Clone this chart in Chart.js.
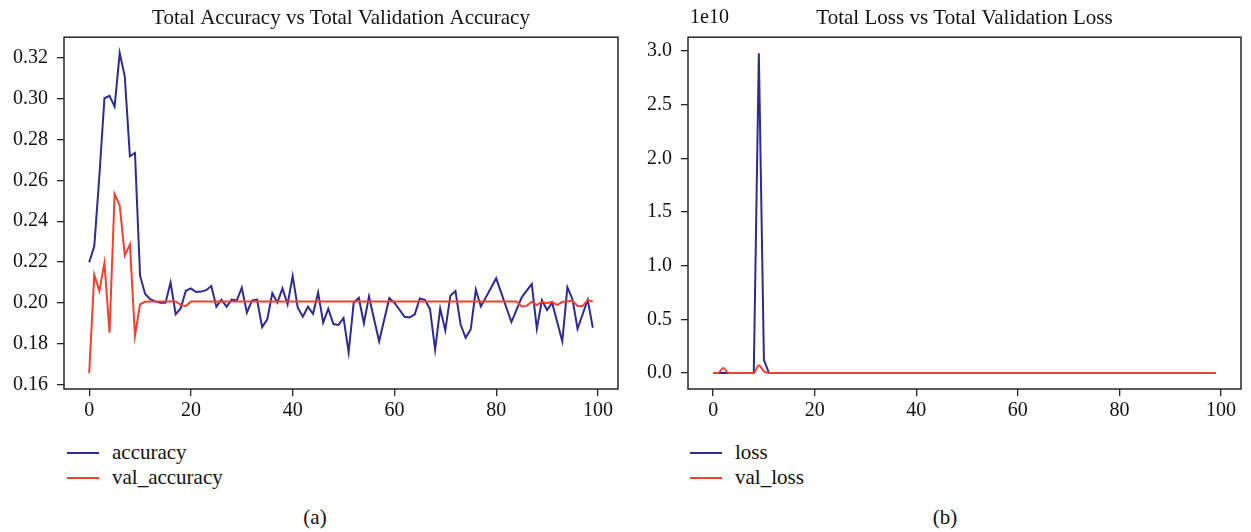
<!DOCTYPE html>
<html lang="en">
<head>
<meta charset="UTF-8" />
<title>accuracy / loss</title>
<script src="https://cdn.jsdelivr.net/npm/chart.js"></script>
<style>
  body { margin: 0; background: #fff; width: 1251px; height: 532px; position: relative; overflow: hidden;
         font-family: "Liberation Serif", "DejaVu Serif", serif; color: #111; }
  canvas { position: absolute; top: 0; }
  .legend { position: absolute; top: 440px; font-size: 21px; }
  .legend div { height: 25px; display: flex; align-items: center; }
  .legend .sw { display: inline-block; width: 32px; height: 2px; margin-right: 13px; }
  .cap { position: absolute; top: 505px; width: 630px; text-align: center; font-size: 21px; line-height: 24px; }
</style>
</head>
<body>
<canvas id="accChart" width="630" height="430" style="left:0"></canvas>
<canvas id="lossChart" width="621" height="430" style="left:630px"></canvas>

<div class="legend" style="left:67px">
  <div><span class="sw" style="background:#2e2a94"></span>accuracy</div>
  <div><span class="sw" style="background:#f2402f"></span>val_accuracy</div>
</div>
<div class="legend" style="left:690px">
  <div><span class="sw" style="background:#2e2a94"></span>loss</div>
  <div><span class="sw" style="background:#f2402f"></span>val_loss</div>
</div>
<div class="cap" style="left:0">(a)</div>
<div class="cap" style="left:630px">(b)</div>

<script>
// epochs 0..99
const epochs = [...Array(100).keys()];

const accuracy = [
  0.2199, 0.2277, 0.2620, 0.3002, 0.3014, 0.2961, 0.3223, 0.3108, 0.2718, 0.2734,
  0.2133, 0.2043, 0.2018, 0.2007, 0.2001, 0.2001, 0.2100, 0.1944, 0.1974, 0.2059,
  0.2071, 0.2053, 0.2055, 0.2062, 0.2082, 0.1981, 0.2015, 0.1981, 0.2016, 0.2011,
  0.2074, 0.1952, 0.2011, 0.2016, 0.1881, 0.1919, 0.2047, 0.2001, 0.2071, 0.1993,
  0.2131, 0.1976, 0.1932, 0.1981, 0.1946, 0.2051, 0.1903, 0.1971, 0.1896, 0.1892,
  0.1926, 0.1758, 0.2001, 0.2025, 0.1900, 0.2031, 0.1920, 0.1812, 0.1918, 0.2023,
  0.2001, 0.1966, 0.1932, 0.1928, 0.1944, 0.2021, 0.2015, 0.1969, 0.1771, 0.1972,
  0.1865, 0.2035, 0.2058, 0.1895, 0.1829, 0.1870, 0.2064, 0.1982, 0.2028, 0.2074,
  0.2120, 0.2049, 0.1977, 0.1906, 0.1966, 0.2026, 0.2060, 0.2092, 0.1873, 0.2013,
  0.1965, 0.2001, 0.1906, 0.1812, 0.2076, 0.2018, 0.1873, 0.1944, 0.2015, 0.1878
];

const valAccuracy = [
  0.1656, 0.2137, 0.2059, 0.2196, 0.1854, 0.2533, 0.2476, 0.2232, 0.2286, 0.1840,
  0.1993, 0.2005, 0.2007, 0.2007, 0.2007, 0.2007, 0.2007, 0.2007, 0.1990, 0.1984,
  0.2007, 0.2007, 0.2007, 0.2007, 0.2007, 0.2007, 0.2007, 0.2007, 0.2007, 0.2007,
  0.2007, 0.2007, 0.2007, 0.2007, 0.2007, 0.2007, 0.2007, 0.2007, 0.2007, 0.2007,
  0.2007, 0.2007, 0.2007, 0.2007, 0.2007, 0.2007, 0.2007, 0.2007, 0.2007, 0.2007,
  0.2007, 0.2007, 0.2007, 0.2007, 0.2007, 0.2007, 0.2007, 0.2007, 0.2007, 0.2007,
  0.2007, 0.2007, 0.2007, 0.2007, 0.2007, 0.2007, 0.2007, 0.2007, 0.2007, 0.2007,
  0.2007, 0.2007, 0.2007, 0.2007, 0.2007, 0.2007, 0.2007, 0.2007, 0.2007, 0.2007,
  0.2007, 0.2007, 0.2007, 0.2007, 0.2007, 0.1982, 0.1985, 0.2005, 0.1989, 0.2005,
  0.1998, 0.2005, 0.1989, 0.2005, 0.2007, 0.2010, 0.1985, 0.1985, 0.2013, 0.2007
];

const loss = [
  1.61, 1.61, 1.61, 1.61, 1.61, 1.61, 1.61, 1.61, 1.61, 2.98e10,
  1.2e9, 1.61, 1.61, 1.61, 1.61, 1.61, 1.61, 1.61, 1.61, 1.61,
  1.61, 1.61, 1.61, 1.61, 1.61, 1.61, 1.61, 1.61, 1.61, 1.61,
  1.61, 1.61, 1.61, 1.61, 1.61, 1.61, 1.61, 1.61, 1.61, 1.61,
  1.61, 1.61, 1.61, 1.61, 1.61, 1.61, 1.61, 1.61, 1.61, 1.61,
  1.61, 1.61, 1.61, 1.61, 1.61, 1.61, 1.61, 1.61, 1.61, 1.61,
  1.61, 1.61, 1.61, 1.61, 1.61, 1.61, 1.61, 1.61, 1.61, 1.61,
  1.61, 1.61, 1.61, 1.61, 1.61, 1.61, 1.61, 1.61, 1.61, 1.61,
  1.61, 1.61, 1.61, 1.61, 1.61, 1.61, 1.61, 1.61, 1.61, 1.61,
  1.61, 1.61, 1.61, 1.61, 1.61, 1.61, 1.61, 1.61, 1.61, 1.61
];

const valLoss = [
  1.61, 1.61, 4.7e8, 1.61, 1.61, 1.61, 1.61, 1.61, 1.61, 7.2e8,
  1.5e8, 1.61, 1.61, 1.61, 1.61, 1.61, 1.61, 1.61, 1.61, 1.61,
  1.61, 1.61, 1.61, 1.61, 1.61, 1.61, 1.61, 1.61, 1.61, 1.61,
  1.61, 1.61, 1.61, 1.61, 1.61, 1.61, 1.61, 1.61, 1.61, 1.61,
  1.61, 1.61, 1.61, 1.61, 1.61, 1.61, 1.61, 1.61, 1.61, 1.61,
  1.61, 1.61, 1.61, 1.61, 1.61, 1.61, 1.61, 1.61, 1.61, 1.61,
  1.61, 1.61, 1.61, 1.61, 1.61, 1.61, 1.61, 1.61, 1.61, 1.61,
  1.61, 1.61, 1.61, 1.61, 1.61, 1.61, 1.61, 1.61, 1.61, 1.61,
  1.61, 1.61, 1.61, 1.61, 1.61, 1.61, 1.61, 1.61, 1.61, 1.61,
  1.61, 1.61, 1.61, 1.61, 1.61, 1.61, 1.61, 1.61, 1.61, 1.61
];

const epochTicks = [0, 20, 40, 60, 80, 100];
const accTicks = [0.16, 0.18, 0.20, 0.22, 0.24, 0.26, 0.28, 0.30, 0.32];
const lossTicks = [0, 0.5e10, 1.0e10, 1.5e10, 2.0e10, 2.5e10, 3.0e10];

const BLUE = "#2e2a94";
const RED = "#f2402f";
const SERIF = '"Liberation Serif", "DejaVu Serif", serif';
const FONT = { family: SERIF, size: 20, weight: "normal" };
const TITLE_FONT = { family: SERIF, size: 21, weight: "normal" };

// box around the plot area (matplotlib style) + optional offset text like "1e10"
const frame = {
  id: "frame",
  afterDraw(chart, args, opts) {
    const { ctx, chartArea: a } = chart;
    ctx.save();
    ctx.strokeStyle = "#262626";
    ctx.lineWidth = 1.5;
    ctx.strokeRect(a.left, a.top, a.right - a.left, a.bottom - a.top);
    if (opts.offsetText) {
      ctx.font = "20px " + SERIF;
      ctx.fillStyle = "#111";
      ctx.textBaseline = "middle";
      ctx.fillText(opts.offsetText, a.left + 2, 18);
    }
    ctx.restore();
  },
};

const toPoints = (ys) => ys.map((y, i) => ({ x: epochs[i], y: y }));

function makeChart(id, cfg) {
  return new Chart(document.getElementById(id), {
    type: "line",
    data: {
      datasets: [
        { label: cfg.names[0], data: toPoints(cfg.main), borderColor: BLUE, borderWidth: 2, pointRadius: 0, order: 1 },
        { label: cfg.names[1], data: toPoints(cfg.val), borderColor: RED, borderWidth: 2, pointRadius: 0, order: 0,
          cubicInterpolationMode: cfg.smoothVal ? "monotone" : "default" },
      ],
    },
    options: {
      responsive: false,
      animation: false,
      layout: { padding: { left: 0, right: cfg.padRight, top: 0, bottom: 0 } },
      plugins: {
        legend: { display: false },
        tooltip: { enabled: false },
        title: { display: true, text: cfg.title, fullSize: false, font: TITLE_FONT, color: "#111", lineHeight: 1.15, padding: { top: 6, bottom: 6 } },
        frame: { offsetText: cfg.offsetText },
      },
      scales: {
        x: {
          type: "linear",
          min: -4.95,
          max: 103.95,
          afterBuildTicks: (ax) => { ax.ticks = epochTicks.map((v) => ({ value: v })); },
          afterFit: (ax) => { ax.height = 41; },
          grid: { drawOnChartArea: false, drawTicks: true, tickLength: 7, color: "#262626", lineWidth: 1.3 },
          border: { display: false },
          ticks: { font: FONT, color: "#111", padding: 3, maxRotation: 0 },
        },
        y: {
          min: cfg.yMin,
          max: cfg.yMax,
          afterBuildTicks: (ax) => { ax.ticks = cfg.yTicks.map((v) => ({ value: v })); },
          afterFit: (ax) => { ax.width = cfg.yWidth; },
          grid: { drawOnChartArea: false, drawTicks: true, tickLength: 7, color: "#262626", lineWidth: 1.3 },
          border: { display: false },
          ticks: { font: FONT, color: "#111", padding: 9, callback: cfg.fmt },
        },
      },
    },
    plugins: [frame],
  });
}

makeChart("accChart", {
  title: "Total Accuracy vs Total Validation Accuracy",
  names: ["accuracy", "val_accuracy"],
  main: accuracy,
  val: valAccuracy,
  yMin: 0.1578,
  yMax: 0.3301,
  yTicks: accTicks,
  yWidth: 64,
  padRight: 12,
  fmt: (v) => v.toFixed(2),
});

makeChart("lossChart", {
  title: "Total Loss vs Total Validation Loss",
  names: ["loss", "val_loss"],
  main: loss,
  val: valLoss,
  yMin: -0.149e10,
  yMax: 3.129e10,
  yTicks: lossTicks,
  yWidth: 58,
  padRight: 10,
  smoothVal: true,
  offsetText: "1e10",
  fmt: (v) => (v / 1e10).toFixed(1),
});
</script>
</body>
</html>
